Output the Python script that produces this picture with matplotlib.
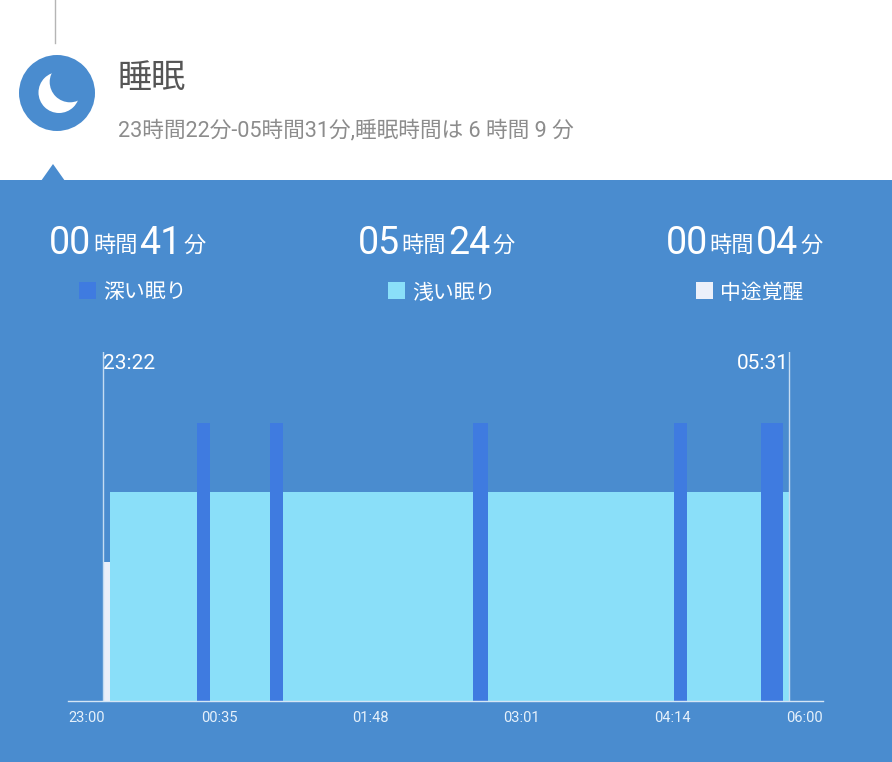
import numpy as np
import matplotlib
matplotlib.use("Agg")
import matplotlib.pyplot as plt
from matplotlib.patches import Circle, Polygon, Rectangle

plt.rcParams['font.family'] = ['Roboto', 'Noto Sans CJK JP', 'DejaVu Sans']

# minutes since sleep start (23:22), one entry per stage block
segment_stage = ["awake", "light", "deep", "light", "deep", "light", "deep", "light", "deep", "light", "deep", "light"]
segment_start = [0, 4, 51, 58, 90, 97, 199, 207, 307, 314, 354, 366]
segment_len = [4, 47, 7, 32, 7, 102, 8, 100, 7, 40, 12, 3]
stage_level = {"awake": 2, "light": 3, "deep": 4}

tick_labels = ["23:00", "00:35", "01:48", "03:01", "04:14", "06:00"]
sleep_start = "23:22"
sleep_end = "05:31"
sleep_total = 369

summary_hours = ["00", "05", "00"]
summary_mins = ["41", "24", "04"]
legend_names = ["深い眠り", "浅い眠り", "中途覚醒"]

BG = "#4A8CCF"
DEEP = "#3F7BE0"
LIGHT = "#8ADFF9"
AWAKE = "#EBF0FA"
stage_color = {"awake": AWAKE, "light": LIGHT, "deep": DEEP}
legend_colors = [DEEP, LIGHT, AWAKE]

W, H = 892, 762
fig = plt.figure(figsize=(W / 100, H / 100), dpi=100, facecolor="white")

# page layer in pixel coordinates
bg = fig.add_axes([0, 0, 1, 1])
bg.set_xlim(0, W)
bg.set_ylim(H, 0)
bg.axis("off")

bg.plot([55, 55], [0, 43], color="#b5b5b5", lw=1)
bg.add_patch(Rectangle((0, 180), W, H - 180, color=BG, lw=0))
bg.add_patch(Polygon([[41, 181], [53, 164], [65, 181]], color=BG, lw=0))

# moon icon
bg.add_patch(Circle((57, 93), 38, color=BG, lw=0))
bg.add_patch(Circle((59, 92.5), 20.5, color="white", lw=0))
bg.add_patch(Circle((70, 82), 20.3, color=BG, lw=0))

bg.text(118, 79, "睡眠", fontsize=24.5, color="#555555", va="center", ha="left")
bg.text(118, 130.5, "23時間22分-05時間31分,睡眠時間は 6 時間 9 分", fontsize=15.6,
        color="#8c8c8c", va="center", ha="left")

# three summary blocks
for i, left in enumerate([49, 357.5, 665.5]):
    bg.text(left, 254, summary_hours[i], fontsize=27, color="white", va="baseline")
    bg.text(left + 44, 252, "時間", fontsize=16, color="white", va="baseline")
    bg.text(left + 90.5, 254, summary_mins[i], fontsize=27, color="white", va="baseline")
    bg.text(left + 135, 252, "分", fontsize=16, color="white", va="baseline")
    bg.add_patch(Rectangle((left + 30, 282), 17, 17, color=legend_colors[i], lw=0))
    bg.text(left + 54.5, 293, legend_names[i], fontsize=15, color="white", va="center")

# chart layer: baseline runs 68..823 px, top of the marker lines at 352 px
ax = fig.add_axes([68 / W, 1 - 701 / H, (823 - 68) / W, (701 - 352) / H])
ax.patch.set_alpha(0)
px_per_min = (789 - 102.5) / sleep_total
xmin = (68 - 102.5) / px_per_min
xmax = (823 - 102.5) / px_per_min
ax.set_xlim(xmin, xmax)
ax.set_ylim(0, 5.02)

for stage, start, length in zip(segment_stage, segment_start, segment_len):
    ax.bar(start, stage_level[stage], width=length, align="edge", color=stage_color[stage], lw=0)

ax.plot([0, 0], [0, 5.02], color="#C5DCF2", lw=1)
ax.plot([sleep_total, sleep_total], [0, 5.02], color="#C5DCF2", lw=1)
ax.text(0, 4.85, sleep_start, fontsize=15, color="white", ha="left", va="center")
ax.text(sleep_total, 4.85, sleep_end, fontsize=15, color="white", ha="right", va="center")

for side in ["top", "left", "right"]:
    ax.spines[side].set_visible(False)
ax.spines["bottom"].set_color("#D5E6F5")
ax.spines["bottom"].set_linewidth(1)
ax.set_yticks([])
ax.set_xticks(np.linspace(xmin, xmax, len(tick_labels)))
ax.set_xticklabels(tick_labels, fontsize=10.5, color="#E6F1FB")
ax.tick_params(axis="x", length=0, pad=7)
ticks = ax.get_xticklabels()
ticks[0].set_ha("left")
ticks[-1].set_ha("right")

fig.savefig("out.png", dpi=100)
